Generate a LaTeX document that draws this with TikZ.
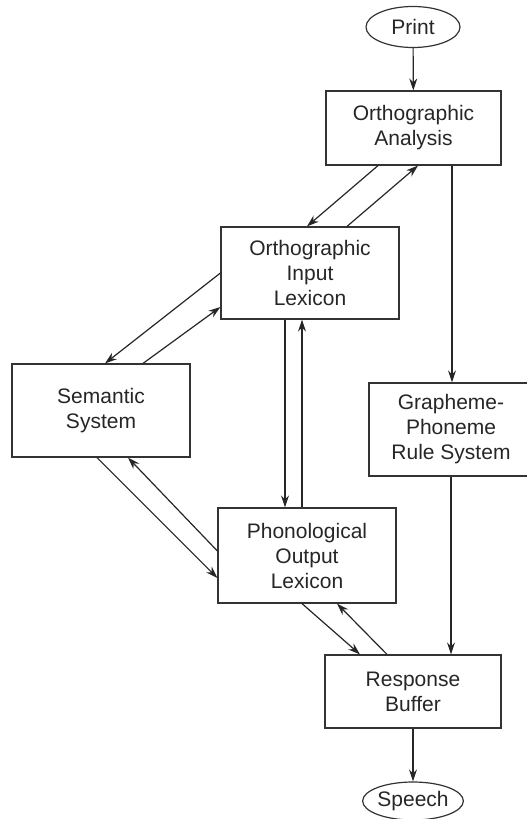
\documentclass[tikz,border=0pt]{standalone}
\usepackage{fontspec}
\setmainfont{Liberation Sans}
\usetikzlibrary{arrows.meta, shapes.geometric, calc}

\begin{document}
\begin{tikzpicture}[
    x=0.5pt, y=-0.5pt,
    every node/.style={font=\fontsize{10.5}{12.5}\selectfont, inner sep=0pt,
        text=black!85},
    modul/.style={rectangle, draw=black!80, line width=0.6pt, align=center},
    ende/.style={ellipse, draw=black!80, line width=0.6pt},
    pil/.style={draw=black!85, line width=0.6pt,
        -{Stealth[length=6pt, width=4pt]}}
    ]
\useasboundingbox (0,0) rectangle (526,819);

%input and output
\node[ende, minimum width=47pt, minimum height=20.5pt] (print) at (413,27) {Print};
\node[ende, minimum width=46pt, minimum height=19pt] (speech) at (413,801) {Speech};

%boxes
\node[modul, minimum width=87.5pt, minimum height=37pt] (oa) at (413.5,128)
    {Orthographic\\Analysis};
\node[modul, minimum width=89pt, minimum height=46pt] (oil) at (310,273)
    {Orthographic\\Input\\Lexicon};
\node[modul, minimum width=89pt, minimum height=46.5pt] (sem) at (101,410.5)
    {Semantic\\System};
\node[modul, minimum width=82pt, minimum height=46.5pt] (gpc) at (451,429.5)
    {Grapheme-\\Phoneme\\Rule System};
\node[modul, minimum width=89pt, minimum height=47.5pt] (pol) at (307,555.5)
    {Phonological\\Output\\Lexicon};
\node[modul, minimum width=88pt, minimum height=36.5pt] (rb) at (413,691.5)
    {Response\\Buffer};

%lexical route
\draw[pil] (print) -- (oa);
\draw[pil] ($(oa.south)+(-35.5,0)$) -- ($(oil.north)+(-3,0)$);
\draw[pil] ($(oil.north)+(37,0)$) -- ($(oa.south)+(4.5,0)$);
\draw[pil] (oil.west) -- ($(sem.north)+(4,0)$);
\draw[pil] ($(sem.north)+(42,0)$) -- ($(oil.west)+(0,34)$);
\draw[pil] ($(oil.south)+(-25,0)$) -- ($(pol.north)+(-22,0)$);
\draw[pil] ($(pol.north)+(-5,0)$) -- ($(oil.south)+(-8,0)$);
\draw[pil] ($(sem.south)+(-4,0)$) -- ($(pol.west)+(0,22.5)$);
\draw[pil] ($(pol.west)+(0,-4.5)$) -- ($(sem.south)+(27,0)$);
\draw[pil] ($(pol.south)+(-5,0)$) -- ($(rb.north)+(-53,0)$);
\draw[pil] ($(rb.north)+(-26,0)$) -- ($(pol.south)+(30,0)$);

%sublexical route
\draw[pil] ($(oa.south)+(38.5,0)$) -- ($(gpc.north)+(1,0)$);
\draw[pil] (gpc.south) -- ($(rb.north)+(38,0)$);
\draw[pil] (rb) -- (speech);
\end{tikzpicture}
\end{document}
